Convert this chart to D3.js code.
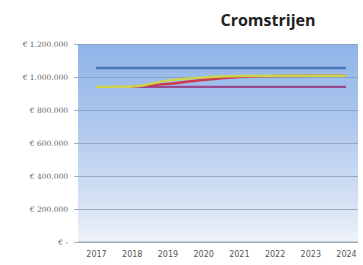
<!DOCTYPE html>
<html>
<head>
<meta charset="utf-8">
<script src="https://cdn.jsdelivr.net/npm/d3@7"></script>
<style>
  body { margin: 0; background: #fff; }
  svg { display: block; }
</style>
</head>
<body>
<div id="chart"></div>
<script>
// data
const years = ["2017", "2018", "2019", "2020", "2021", "2022", "2023", "2024"];
const blueVals   = [1055000, 1055000, 1055000, 1055000, 1055000, 1055000, 1055000, 1055000];
const purpleVals = [null, 940000, 940000, 940000, 940000, 940000, 940000, 940000];
const redVals    = [null, 940000, 958000, 982000, 1000000, 1006000, 1008000, 1008000];
const yellowVals = [940000, 942000, 978000, 998000, 1006000, 1008000, 1008000, 1008000];
const yTicks = [0, 200000, 400000, 600000, 800000, 1000000, 1200000];

const series = [
  { name: "blue", values: blueVals, color: "#4a78bc" },
  { name: "purple", values: purpleVals, color: "#9c4a8e" },
  { name: "red", values: redVals, color: "#cc3a4c" },
  { name: "yellow", values: yellowVals, color: "#cdd44c" }
];

const W = 363, H = 265;
const plot = { left: 78, right: 358, top: 44, bottom: 242 };

const svg = d3.select("#chart").append("svg")
  .attr("width", W).attr("height", H);

const defs = svg.append("defs");
const grad = defs.append("linearGradient").attr("id", "bg")
  .attr("x1", 0).attr("y1", 0).attr("x2", 0).attr("y2", 1);
grad.append("stop").attr("offset", "0%").attr("stop-color", "#8fb4e8");
grad.append("stop").attr("offset", "40%").attr("stop-color", "#aec7ee");
grad.append("stop").attr("offset", "80%").attr("stop-color", "#d6e2f4");
grad.append("stop").attr("offset", "100%").attr("stop-color", "#eef2f9");

const x = d3.scalePoint().domain(years).range([96, 346]);
const y = d3.scaleLinear().domain([0, 1200000]).range([plot.bottom, plot.top]);

// plot background
svg.append("rect")
  .attr("x", plot.left).attr("y", plot.top)
  .attr("width", plot.right - plot.left).attr("height", plot.bottom - plot.top)
  .attr("fill", "url(#bg)");

// title
svg.append("text")
  .attr("x", 268).attr("y", 26)
  .attr("text-anchor", "middle")
  .attr("font-family", "'Open Sans', sans-serif")
  .attr("font-weight", 700)
  .attr("font-size", 16)
  .attr("fill", "#222")
  .text("Cromstrijen");

// y axis with gridlines
const fmt = v => v === 0 ? "€    -" : "€ " + d3.format(",")(v).replace(/,/g, ".");
const yAxis = svg.append("g")
  .attr("transform", `translate(${plot.left},0)`)
  .call(d3.axisLeft(y).tickValues(yTicks).tickFormat(fmt)
    .tickSize(-(plot.right - plot.left)).tickPadding(10));
yAxis.select(".domain").remove();
yAxis.selectAll(".tick line")
  .attr("x1", -4)
  .attr("stroke", "#8a9cb8").attr("stroke-width", 0.8);
yAxis.selectAll(".tick text")
  .attr("font-family", "'DejaVu Serif', serif")
  .attr("font-size", 7.5)
  .attr("fill", "#666");

// x axis
const xAxis = svg.append("g")
  .attr("transform", `translate(0,${plot.bottom})`)
  .call(d3.axisBottom(x).tickSize(0).tickPadding(9));
xAxis.select(".domain")
  .attr("d", `M${plot.left},0H${plot.right}`)
  .attr("stroke", "#9aa4b4");
xAxis.selectAll(".tick text")
  .attr("font-family", "'DejaVu Sans', sans-serif")
  .attr("font-size", 8)
  .attr("fill", "#555");

// lines
const line = d3.line()
  .defined(d => d != null)
  .x((d, i) => x(years[i]))
  .y(d => y(d))
  .curve(d3.curveMonotoneX);

svg.append("g").selectAll("path")
  .data(series)
  .join("path")
  .attr("fill", "none")
  .attr("stroke", d => d.color)
  .attr("stroke-width", 2.4)
  .attr("d", d => line(d.values));
</script>
</body>
</html>
